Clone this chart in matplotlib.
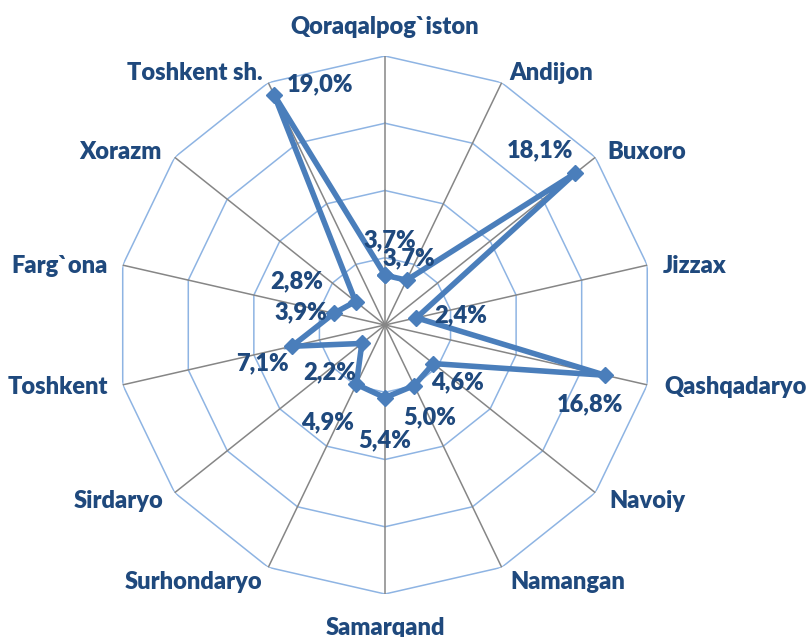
import numpy as np
import matplotlib
matplotlib.use("Agg")
import matplotlib.pyplot as plt

categories = ["Qoraqalpog`iston", "Andijon", "Buxoro", "Jizzax", "Qashqadaryo",
              "Navoiy", "Namangan", "Samarqand", "Surhondaryo", "Sirdaryo",
              "Toshkent", "Farg`ona", "Xorazm", "Toshkent sh."]
values = [3.7, 3.7, 18.1, 2.4, 16.8, 4.6, 5.0, 5.4, 4.9, 2.2, 7.1, 3.9, 2.8, 19.0]
value_labels = ["3,7%", "3,7%", "18,1%", "2,4%", "16,8%", "4,6%", "5,0%", "5,4%",
                "4,9%", "2,2%", "7,1%", "3,9%", "2,8%", "19,0%"]
ring_levels = [5, 10, 15, 20]
r_max = 20

TEXT = "#1F497D"
LINE = "#4A7EBB"
RING = "#8EB4E3"
SPOKE = "#868686"
FONT = "Lato"
FS = 17
FW = "heavy"

fig = plt.figure(figsize=(8.07, 6.37), dpi=100)
ax = fig.add_axes([0.1437, 0.0675, 0.6667, 0.8446], projection="polar")
ax.set_theta_offset(np.pi / 2)
ax.set_theta_direction(-1)
ax.set_ylim(0, r_max)
ax.axis("off")

n = len(categories)
theta = np.arange(n) * 2 * np.pi / n
theta_closed = np.append(theta, theta[0])

# polygon rings
for lev in ring_levels:
    ax.plot(theta_closed, [lev] * (n + 1), color=RING, lw=1.1, zorder=1)
# spokes
for t in theta:
    ax.plot([t, t], [0, r_max], color=SPOKE, lw=1.1, zorder=2)

vals_closed = np.append(values, values[0])
ax.plot(theta_closed, vals_closed, color=LINE, lw=4.0, zorder=3,
        marker="D", markersize=8, markerfacecolor=LINE, markeredgecolor=LINE,
        solid_joinstyle="miter")

# data labels (offsets in pixels, screen: x right, y down)
lab_off = [(5, -35), (2, -22), (-35, -23), (44, -3), (-15, 29), (24, 19),
           (15, 32), (0, 43), (-29, 38), (-32, 29), (-29, 17), (-33, -1),
           (-59, -20), (46, -10)]
for t, v, s, (dx, dy) in zip(theta, values, value_labels, lab_off):
    ax.annotate(s, xy=(t, v), xytext=(dx, -dy), textcoords="offset pixels",
                ha="center", va="center", fontsize=FS, fontweight=FW,
                color=TEXT, family=FONT, zorder=5, annotation_clip=False)

# category labels
cat_pos = [("center", 0, -29), ("left", 8, -10), ("left", 12, -5), ("left", 16, 1),
           ("left", 17, 2), ("left", 14, 8), ("left", 9, 15), ("center", 0, 34),
           ("right", -6, 15), ("right", -11, 8), ("right", -15, 2), ("right", -15, 1),
           ("right", -13, -5), ("right", -6, -10)]
for t, c, (ha, dx, dy) in zip(theta, categories, cat_pos):
    ax.annotate(c, xy=(t, r_max), xytext=(dx, -dy), textcoords="offset pixels",
                ha=ha, va="center", fontsize=FS, fontweight=FW,
                color=TEXT, family=FONT, annotation_clip=False)

fig.savefig("out.png", dpi=100)
